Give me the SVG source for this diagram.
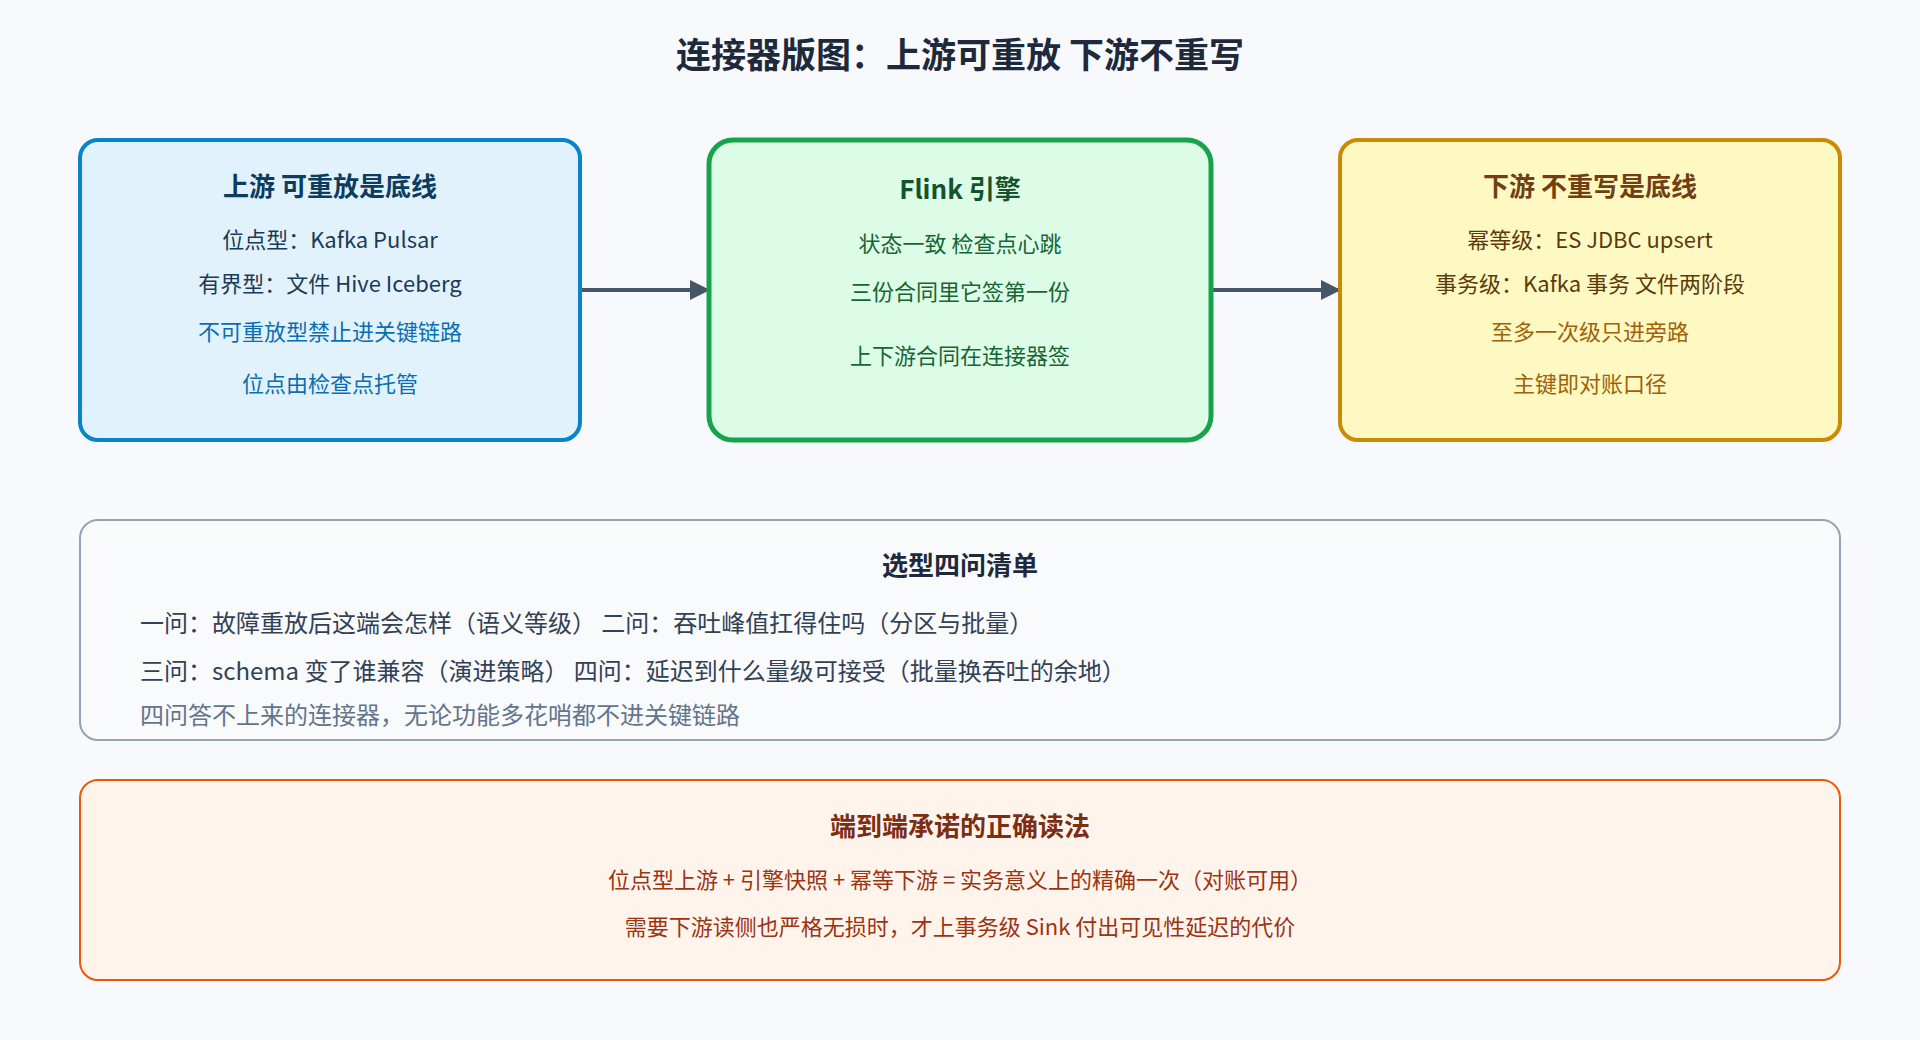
<svg xmlns="http://www.w3.org/2000/svg" width="1920" height="1040" viewBox="0 0 1920 1040">
<defs>
<style>
text{font-family:"Noto Sans CJK SC","Noto Sans",sans-serif;text-anchor:middle;dominant-baseline:middle}
.t{font-size:26px;font-weight:bold}
.l{font-size:22px}
.c{font-size:24px;text-anchor:start}
</style>
<marker id="ah" viewBox="0 0 10 10" refX="9" refY="5" markerWidth="5" markerHeight="5" orient="auto"><path d="M0,0L10,5L0,10z" fill="#475569"/></marker>
</defs>
<rect width="1920" height="1040" fill="#f7f9fc"/>
<text x="960" y="58" style="font-size:35px;font-weight:bold" fill="#1e293b">连接器版图：上游可重放 下游不重写</text>
<g id="connectors" stroke="#475569" stroke-width="4" fill="none">
<line x1="581" y1="290" x2="708" y2="290" marker-end="url(#ah)"/>
<line x1="1212" y1="290" x2="1339" y2="290" marker-end="url(#ah)"/>
</g>
<g id="upstream">
<rect x="80" y="140" width="500" height="300" rx="18" fill="#e1f2fd" stroke="#0a84c8" stroke-width="4"/>
<text x="330" y="189" class="t" fill="#0d3c61">上游 可重放是底线</text>
<text x="330" y="242" class="l" fill="#1b3a57">位点型：Kafka Pulsar</text>
<text x="330" y="286" class="l" fill="#1b3a57">有界型：文件 Hive Iceberg</text>
<text x="330" y="334" class="l" fill="#0a6fb0">不可重放型禁止进关键链路</text>
<text x="330" y="386" class="l" fill="#0a6fb0">位点由检查点托管</text>
</g>
<g id="flink">
<rect x="709" y="140" width="502" height="300" rx="24" fill="#dcfce7" stroke="#16a34a" stroke-width="5"/>
<text x="960" y="192" class="t" fill="#14532d">Flink 引擎</text>
<text x="960" y="246" class="l" fill="#166534">状态一致 检查点心跳</text>
<text x="960" y="294" class="l" fill="#166534">三份合同里它签第一份</text>
<text x="960" y="358" class="l" fill="#166534">上下游合同在连接器签</text>
</g>
<g id="downstream">
<rect x="1340" y="140" width="500" height="300" rx="18" fill="#fef9c3" stroke="#ca8a04" stroke-width="4"/>
<text x="1590" y="189" class="t" fill="#713f12">下游 不重写是底线</text>
<text x="1590" y="242" class="l" fill="#5c3a0a">幂等级：ES JDBC upsert</text>
<text x="1590" y="286" class="l" fill="#5c3a0a">事务级：Kafka 事务 文件两阶段</text>
<text x="1590" y="334" class="l" fill="#a16207">至多一次级只进旁路</text>
<text x="1590" y="386" class="l" fill="#a16207">主键即对账口径</text>
</g>
<g id="checklist">
<rect x="80" y="520" width="1760" height="220" rx="18" fill="#f8fafc" stroke="#94a3b8" stroke-width="2"/>
<text x="960" y="568" class="t" fill="#1e293b">选型四问清单</text>
<text x="140" y="625" class="c" fill="#334155">一问：故障重放后这端会怎样（语义等级） 二问：吞吐峰值扛得住吗（分区与批量）</text>
<text x="140" y="673" class="c" fill="#334155">三问：schema 变了谁兼容（演进策略） 四问：延迟到什么量级可接受（批量换吞吐的余地）</text>
<text x="140" y="717" class="c" fill="#64748b">四问答不上来的连接器，无论功能多花哨都不进关键链路</text>
</g>
<g id="e2e">
<rect x="80" y="780" width="1760" height="200" rx="18" fill="#fff4ec" stroke="#ea580c" stroke-width="2"/>
<text x="960" y="829" class="t" fill="#7c2d12">端到端承诺的正确读法</text>
<text x="960" y="882" class="l" fill="#9a3412">位点型上游 + 引擎快照 + 幂等下游 = 实务意义上的精确一次（对账可用）</text>
<text x="960" y="929" class="l" fill="#9a3412">需要下游读侧也严格无损时，才上事务级 Sink 付出可见性延迟的代价</text>
</g>
</svg>
